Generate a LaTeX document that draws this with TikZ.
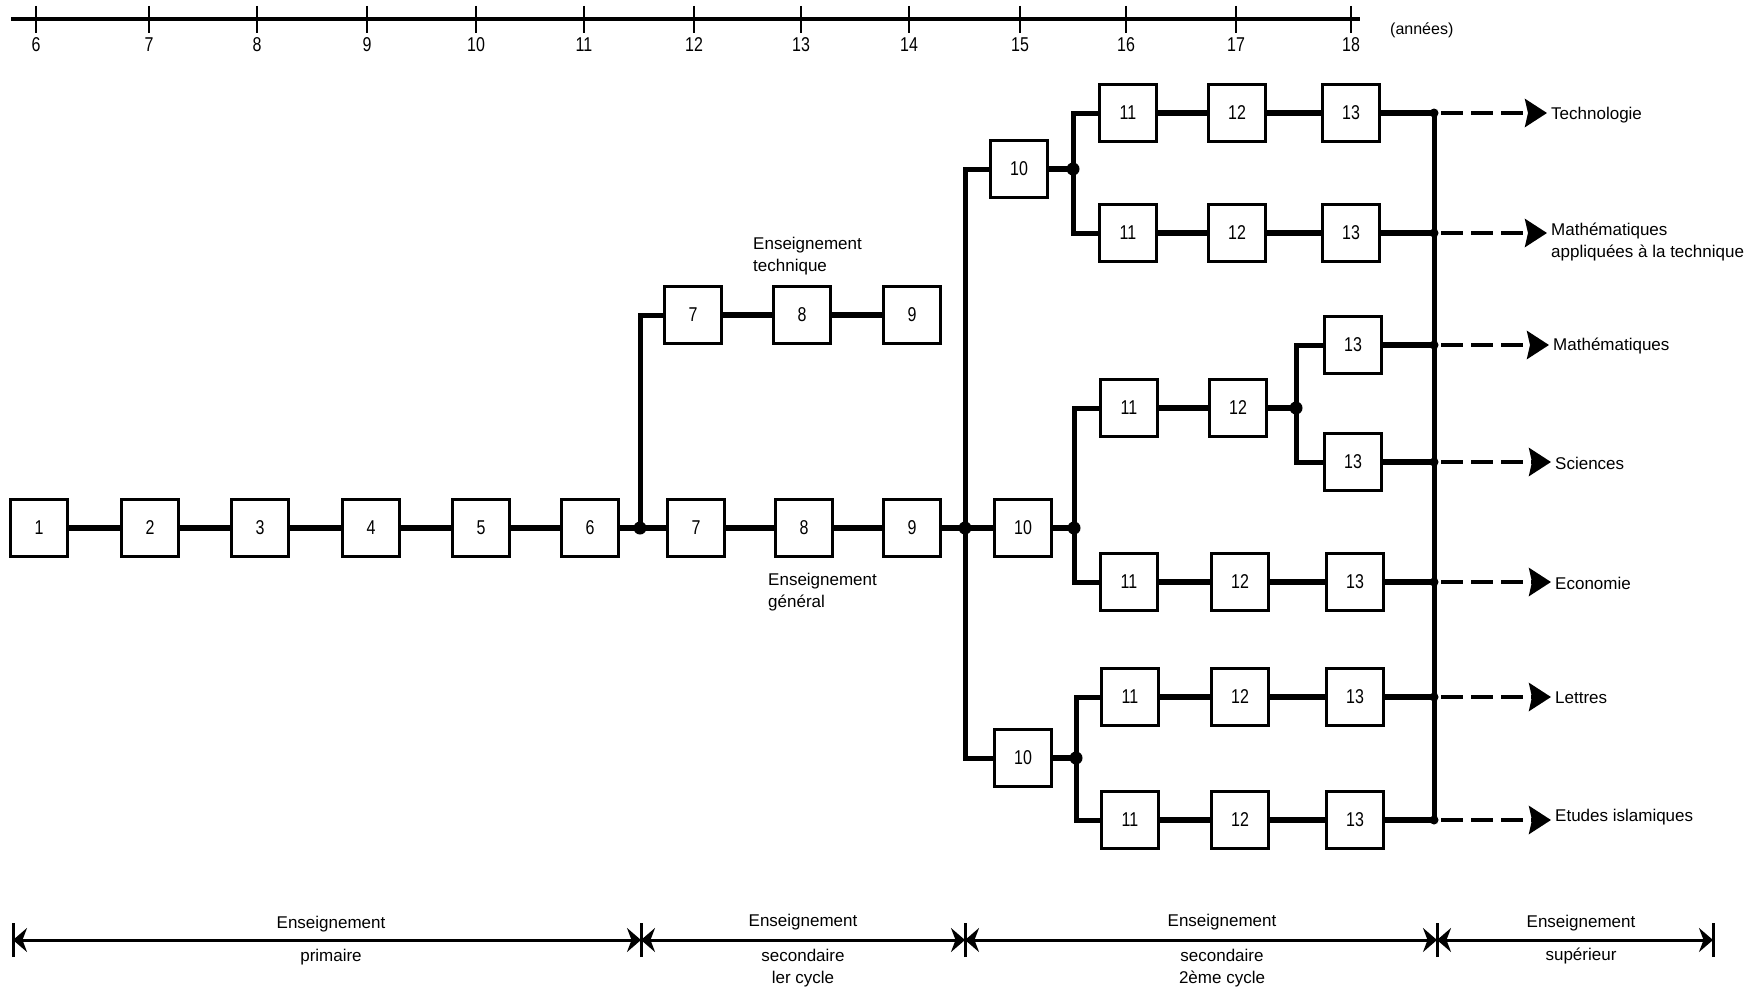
\documentclass[tikz,border=0pt]{standalone}
\usepackage{fontspec}
\setmainfont{Liberation Sans}
\newfontfamily\digfam[FakeStretch=0.8]{Liberation Sans}
\newcommand\mydig{\digfam\fontsize{20}{23}\selectfont}
\newcommand\mylab{\fontsize{17}{22}\selectfont}
\usetikzlibrary{arrows.meta}
\tikzset{
  box/.style={draw, line width=2.5pt, minimum width=57pt, minimum height=57pt, inner sep=0pt, font=\mydig},
  conn/.style={line width=5.5pt},
  vconn/.style={line width=5pt},
  lbl/.style={font=\mylab, inner sep=0pt},
  dashout/.style={line width=4pt, dash pattern=on 22pt off 8pt, -{Stealth[length=22pt,width=28pt,inset=3pt]}},
  jdot/.style={circle, fill, inner sep=0pt, minimum size=13pt},
  sdot/.style={circle, fill, inner sep=0pt, minimum size=9pt},
  seg/.style={line width=3pt, {Stealth[length=14pt,width=24pt]}-{Stealth[length=14pt,width=24pt]}},
  bar/.style={line width=3pt},
}
\begin{document}
\begin{tikzpicture}[x=1pt,y=-1pt]
\useasboundingbox (0,0) rectangle (1758,990);

% ---- top axis
\draw[line width=3.5pt] (11,19) -- (1360,19);
\foreach \x/\l in {36/6,149/7,257/8,367/9,476/10,584/11,694/12,801/13,909/14,1020/15,1126/16,1236/17,1351/18}{
  \draw[line width=2.5pt] (\x,6) -- (\x,33);
  \node[font=\mydig, inner sep=0pt] (y\l) at (\x,45) {\l};
}
\node[lbl, anchor=west, font=\fontsize{16}{20}\selectfont] (annees) at (1390,30) {(années)};

% ---- main row
\node[box] (b1) at (39,528) {1};
\node[box] (b2) at (150,528) {2};
\node[box] (b3) at (260,528) {3};
\node[box] (b4) at (371,528) {4};
\node[box] (b5) at (481,528) {5};
\node[box] (b6) at (590,528) {6};
\node[box] (g7) at (696,528) {7};
\node[box] (g8) at (804,528) {8};
\node[box] (g9) at (912,528) {9};
\node[box] (m10) at (1023,528) {10};

% technique row
\node[box] (t7) at (693,315) {7};
\node[box] (t8) at (802,315) {8};
\node[box] (t9) at (912,315) {9};

% upper group
\node[box] (ua10) at (1019,169) {10};
\node[box] (ua11) at (1128,113) {11};
\node[box] (ua12) at (1237,113) {12};
\node[box] (ua13) at (1351,113) {13};
\node[box] (ub11) at (1128,233) {11};
\node[box] (ub12) at (1237,233) {12};
\node[box] (ub13) at (1351,233) {13};

% middle group
\node[box] (ma11) at (1129,408) {11};
\node[box] (ma12) at (1238,408) {12};
\node[box] (mk13) at (1353,345) {13};
\node[box] (ms13) at (1353,462) {13};
\node[box] (mb11) at (1129,582) {11};
\node[box] (mb12) at (1240,582) {12};
\node[box] (mb13) at (1355,582) {13};

% lower group
\node[box] (l10) at (1023,758) {10};
\node[box] (la11) at (1130,697) {11};
\node[box] (la12) at (1240,697) {12};
\node[box] (la13) at (1355,697) {13};
\node[box] (lb11) at (1130,820) {11};
\node[box] (lb12) at (1240,820) {12};
\node[box] (lb13) at (1355,820) {13};

% junctions
\coordinate (j1) at (640,528);
\coordinate (j2) at (965,528);
\coordinate (jm) at (1074,528);
\coordinate (ju) at (1073,169);
\coordinate (jl) at (1076,758);
\coordinate (jk) at (1296,408);
\coordinate (xr) at (1434,113);

% connectors main row
\draw[conn] (b1) -- (b2);
\draw[conn] (b2) -- (b3);
\draw[conn] (b3) -- (b4);
\draw[conn] (b4) -- (b5);
\draw[conn] (b5) -- (b6);
\draw[conn] (b6) -- (g7);
\draw[conn] (g7) -- (g8);
\draw[conn] (g8) -- (g9);
\draw[conn] (g9) -- (m10);
\draw[vconn] (j1) -- (j1 |- t7.west) -- (t7.west);
\draw[conn] (t7) -- (t8);
\draw[conn] (t8) -- (t9);

% big vertical
\draw[vconn] (ua10.west) -- (ua10.west -| j2) -- (l10.west -| j2) -- (l10.west);

% upper group
\draw[conn] (ua10.east) -- (ju);
\draw[vconn] (ua11.west) -- (ua11.west -| ju) -- (ub11.west -| ju) -- (ub11.west);
\draw[conn] (ua11) -- (ua12);
\draw[conn] (ua12) -- (ua13);
\draw[conn] (ub11) -- (ub12);
\draw[conn] (ub12) -- (ub13);

% middle group
\draw[conn] (m10.east) -- (jm);
\draw[vconn] (ma11.west) -- (ma11.west -| jm) -- (mb11.west -| jm) -- (mb11.west);
\draw[conn] (ma11) -- (ma12);
\draw[conn] (ma12.east) -- (jk);
\draw[vconn] (mk13.west) -- (mk13.west -| jk) -- (ms13.west -| jk) -- (ms13.west);
\draw[conn] (mb11) -- (mb12);
\draw[conn] (mb12) -- (mb13);

% lower group
\draw[conn] (l10.east) -- (jl);
\draw[vconn] (la11.west) -- (la11.west -| jl) -- (lb11.west -| jl) -- (lb11.west);
\draw[conn] (la11) -- (la12);
\draw[conn] (la12) -- (la13);
\draw[conn] (lb11) -- (lb12);
\draw[conn] (lb12) -- (lb13);

% junction dots
\foreach \j in {j1,j2,jm,ju,jl,jk}{\node[jdot] at (\j) {};}

% right vertical
\draw[vconn] (xr) -- (xr |- lb13.east);

% outputs
\node[lbl, anchor=west] (o1) at (1551,115) {Technologie};
\node[lbl, anchor=north west, align=left] (o2) at (1551,223) {Mathématiques\\appliquées à la technique};
\node[lbl, anchor=west] (o3) at (1553,346) {Mathématiques};
\node[lbl, anchor=west] (o4) at (1555,463) {Sciences};
\node[lbl, anchor=west] (o5) at (1555,583) {Economie};
\node[lbl, anchor=west] (o6) at (1555,698) {Lettres};
\node[lbl, anchor=west] (o7) at (1555,817) {Etudes islamiques};

\foreach \b/\o in {ua13/o1, ub13/o2, mk13/o3, ms13/o4, mb13/o5, la13/o6, lb13/o7}{
  \draw[conn] (\b.east) -- (\b.east -| xr);
  \node[sdot] at (\b.east -| xr) {};
  \draw[dashout] ([xshift=7pt]\b.east -| xr) -- ([xshift=-4pt]\b.east -| \o.west);
}

% side labels
\node[lbl, anchor=north west, align=left] (tech) at (753,237) {Enseignement\\technique};
\node[lbl, anchor=north west, align=left] (gen) at (768,573) {Enseignement\\général};

% ---- bottom axis
\coordinate (p0) at (13,940);
\coordinate (p1) at (641,940);
\coordinate (p2) at (965,940);
\coordinate (p3) at (1437,940);
\coordinate (p4) at (1713,940);
\draw[seg] (p0) -- (p1);
\draw[seg] (p1) -- (p2);
\draw[seg] (p2) -- (p3);
\draw[seg] (p3) -- (p4);
\foreach \p in {p0,p1,p2,p3,p4}{\draw[bar] ([yshift=-17pt]\p) -- ([yshift=17pt]\p);}

\node[lbl] (e1) at (331,924) {Enseignement};
\node[lbl] (e1b) at (331,957) {primaire};
\node[lbl, anchor=north, align=center] (e2) at (803,914) {Enseignement};
\node[lbl, anchor=north, align=center] (e2b) at (803,949) {secondaire\\ler cycle};
\node[lbl, anchor=north] (e3) at (1222,914) {Enseignement};
\node[lbl, anchor=north, align=center] (e3b) at (1222,949) {secondaire\\2ème cycle};
\node[lbl] (e4) at (1581,923) {Enseignement};
\node[lbl] (e4b) at (1581,956) {supérieur};
\end{tikzpicture}
\end{document}
